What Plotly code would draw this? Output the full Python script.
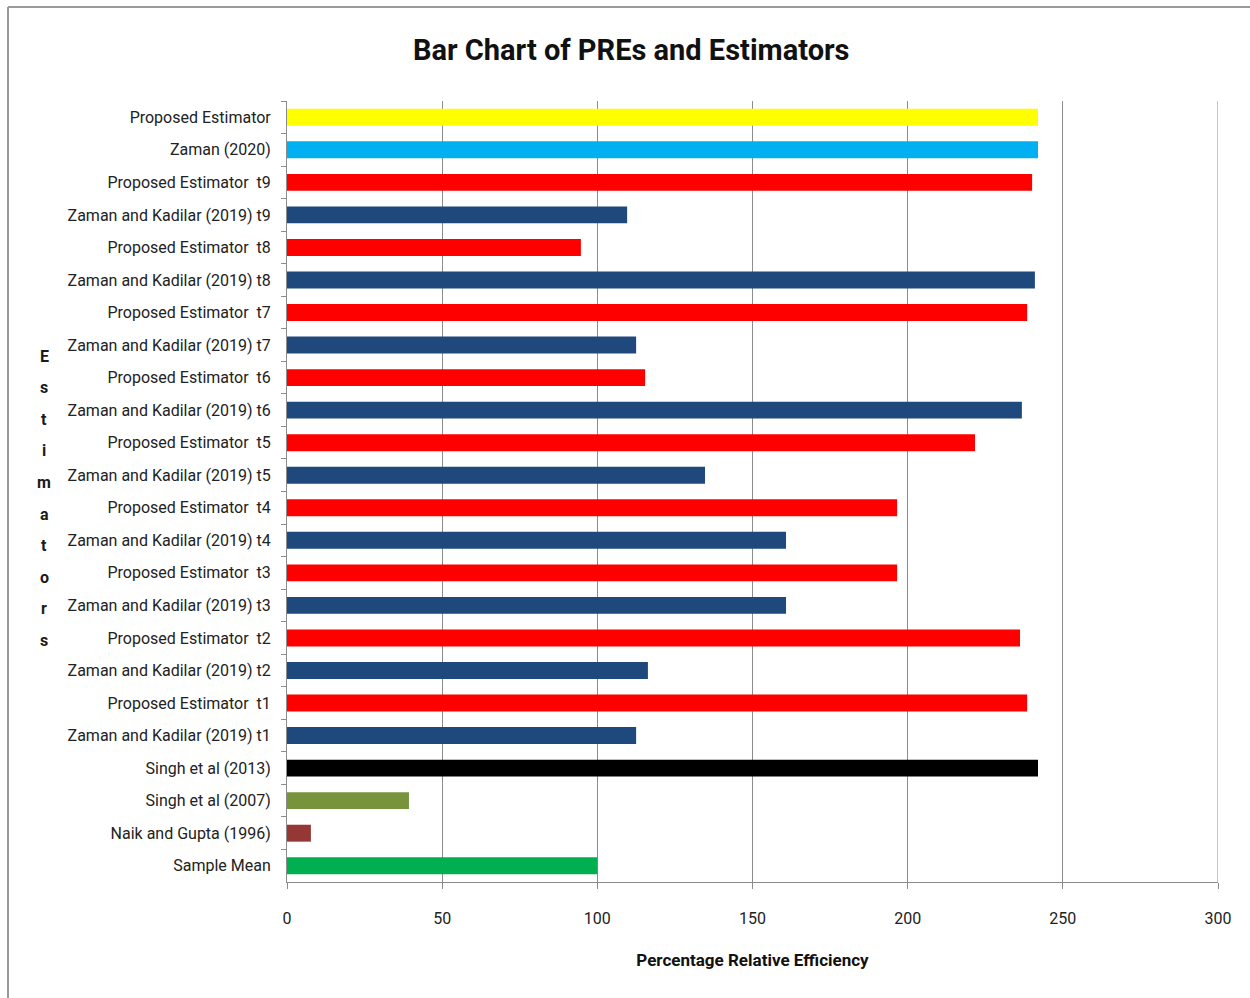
import plotly.graph_objects as go

# Data (top to bottom as shown)
categories = [
    "Proposed Estimator",
    "Zaman (2020)",
    "Proposed Estimator\u00a0 t9",
    "Zaman and Kadilar (2019) t9",
    "Proposed Estimator\u00a0 t8",
    "Zaman and Kadilar (2019) t8",
    "Proposed Estimator\u00a0 t7",
    "Zaman and Kadilar (2019) t7",
    "Proposed Estimator\u00a0 t6",
    "Zaman and Kadilar (2019) t6",
    "Proposed Estimator\u00a0 t5",
    "Zaman and Kadilar (2019) t5",
    "Proposed Estimator\u00a0 t4",
    "Zaman and Kadilar (2019) t4",
    "Proposed Estimator\u00a0 t3",
    "Zaman and Kadilar (2019) t3",
    "Proposed Estimator\u00a0 t2",
    "Zaman and Kadilar (2019) t2",
    "Proposed Estimator\u00a0 t1",
    "Zaman and Kadilar (2019) t1",
    "Singh et al (2013)",
    "Singh et al (2007)",
    "Naik and Gupta (1996)",
    "Sample Mean",
]
pre_values = [242.0, 242.0, 240.1, 109.6, 94.7, 241.0, 238.5, 112.5, 115.4, 236.8,
              221.7, 134.7, 196.6, 160.8, 196.6, 160.8, 236.2, 116.3, 238.5, 112.5,
              242.0, 39.3, 7.7, 100.0]
x_ticks = [0, 50, 100, 150, 200, 250, 300]

RED = "#FF0000"
DBLUE = "#1F497D"
bar_colors = (["#FFFF00", "#00B0F0"]
              + [c for _ in range(9) for c in (RED, DBLUE)]
              + ["#000000", "#77933C", "#953735", "#00B050"])

FONT = "Liberation Sans Narrow, Roboto, Arial, sans-serif"

fig = go.Figure(go.Bar(
    x=pre_values, y=categories, orientation="h",
    marker=dict(color=bar_colors, line=dict(width=0)),
    width=0.52,
))

W, H = 1250, 998
L, R, T, B = 287, 32, 101, 116
pw, ph = W - L - R, H - T - B

def px2paper_x(px):
    return (px - L) / pw

def px2paper_y(py):
    return (H - B - py) / ph

shapes = [
    dict(type="line", xref="paper", yref="paper", x0=px2paper_x(8), x1=px2paper_x(1252),
         y0=px2paper_y(7), y1=px2paper_y(7), line=dict(color="#9a9a9a", width=2)),
    dict(type="line", xref="paper", yref="paper", x0=px2paper_x(8), x1=px2paper_x(8),
         y0=px2paper_y(7), y1=px2paper_y(1000), line=dict(color="#9a9a9a", width=2)),
    # gridline at the range end (300)
    dict(type="line", xref="x", yref="paper", x0=x_ticks[-1], x1=x_ticks[-1], y0=0, y1=1,
         line=dict(color="#8c8c8c", width=1), layer="below"),
]

annotations = []
letters = list("Estimators")
for i, ch in enumerate(letters):
    annotations.append(dict(
        text=ch, xref="paper", yref="paper", x=px2paper_x(44), y=px2paper_y(356 + i * 31.6),
        showarrow=False, xanchor="center", yanchor="middle",
        font=dict(family=FONT, size=16, color="#1a1a1a", weight="bold"),
    ))

fig.update_layout(
    width=W, height=H,
    margin=dict(l=L, r=R, t=T, b=B, autoexpand=False),
    paper_bgcolor="white", plot_bgcolor="white",
    showlegend=False,
    title=dict(text="<b>Bar Chart of PREs and Estimators</b>", x=0.505, xanchor="center",
               y=1 - 50 / H, yanchor="middle", xref="container", yref="container",
               font=dict(family=FONT, size=29, color="#111111")),
    font=dict(family=FONT, size=16, color="#222222"),
    shapes=shapes,
    annotations=annotations,
)

fig.update_xaxes(
    range=[0, 300], tickvals=x_ticks, ticktext=[str(v) for v in x_ticks],
    showgrid=True, gridcolor="#8c8c8c", gridwidth=1,
    showline=True, linecolor="#8c8c8c", linewidth=1,
    ticks="outside", ticklen=6, tickcolor="#8c8c8c",
    ticklabelstandoff=16, zeroline=False,
    tickfont=dict(family=FONT, size=16, color="#222222"),
    title=dict(text="<b>Percentage Relative Efficiency</b>", standoff=26,
               font=dict(family=FONT, size=17, color="#111111")),
)
fig.update_yaxes(
    autorange="reversed", type="category",
    showgrid=False, showline=True, linecolor="#8c8c8c", linewidth=1,
    ticks="outside", ticklen=5, tickcolor="#8c8c8c", tickson="boundaries",
    ticklabelstandoff=12,
    tickfont=dict(family=FONT, size=16, color="#222222"),
)

fig.write_html("out.html")
